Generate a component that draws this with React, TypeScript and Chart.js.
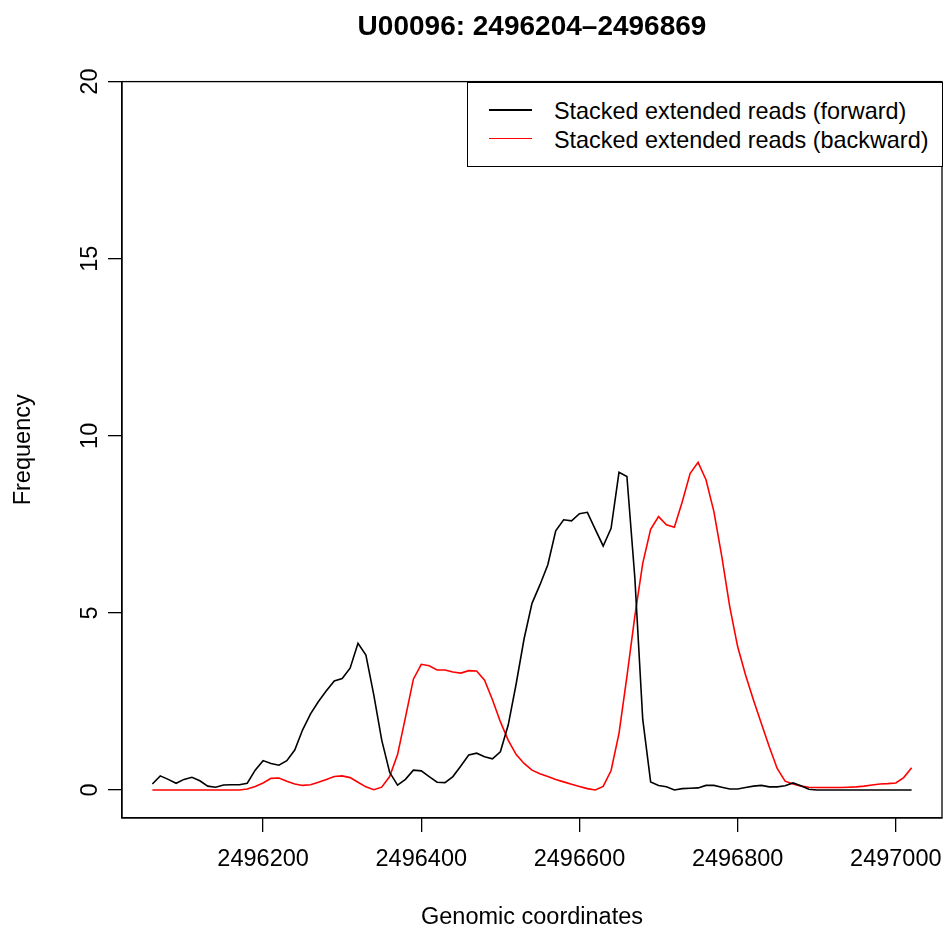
import React, { useEffect, useRef } from "react";
import { Chart, registerables } from "chart.js";

Chart.register(...registerables);

const positions = [
  2496060, 2496070, 2496080, 2496090, 2496100, 2496110, 2496120, 2496130, 2496140, 2496150,
  2496160, 2496170, 2496180, 2496190, 2496200, 2496210, 2496220, 2496230, 2496240, 2496250,
  2496260, 2496270, 2496280, 2496290, 2496300, 2496310, 2496320, 2496330, 2496340, 2496350,
  2496360, 2496370, 2496380, 2496390, 2496400, 2496410, 2496420, 2496430, 2496440, 2496450,
  2496460, 2496470, 2496480, 2496490, 2496500, 2496510, 2496520, 2496530, 2496540, 2496550,
  2496560, 2496570, 2496580, 2496590, 2496600, 2496610, 2496620, 2496630, 2496640, 2496650,
  2496660, 2496670, 2496680, 2496690, 2496700, 2496710, 2496720, 2496730, 2496740, 2496750,
  2496760, 2496770, 2496780, 2496790, 2496800, 2496810, 2496820, 2496830, 2496840, 2496850,
  2496860, 2496870, 2496880, 2496890, 2496900, 2496910, 2496920, 2496930, 2496940, 2496950,
  2496960, 2496970, 2496980, 2496990, 2497000, 2497010, 2497020,
];

const forwardReads = [
  0.17, 0.4, 0.3, 0.19, 0.3, 0.36, 0.26, 0.11, 0.08, 0.14,
  0.15, 0.15, 0.19, 0.56, 0.83, 0.75, 0.7, 0.83, 1.13, 1.7,
  2.15, 2.5, 2.8, 3.08, 3.15, 3.44, 4.14, 3.81, 2.68, 1.41,
  0.5, 0.14, 0.3, 0.56, 0.54, 0.38, 0.22, 0.21, 0.38, 0.68,
  0.99, 1.04, 0.94, 0.88, 1.08, 1.84, 3.0, 4.27, 5.27, 5.79,
  6.36, 7.32, 7.63, 7.6, 7.8, 7.84, 7.36, 6.89, 7.39, 8.97,
  8.85, 6.0, 2.0, 0.23, 0.13, 0.09, 0.0, 0.04, 0.05, 0.06,
  0.13, 0.13, 0.08, 0.03, 0.03, 0.07, 0.11, 0.13, 0.09, 0.09,
  0.12, 0.2, 0.12, 0.02, 0, 0, 0, 0, 0, 0,
  0, 0, 0, 0, 0, 0, 0,
];

const backwardReads = [
  0, 0, 0, 0, 0, 0, 0, 0, 0, 0,
  0, 0, 0.03, 0.1, 0.2, 0.33, 0.34, 0.25, 0.17, 0.13,
  0.15, 0.22, 0.3, 0.38, 0.4, 0.35, 0.22, 0.09, 0.01, 0.08,
  0.38, 1.0, 2.05, 3.13, 3.55, 3.51, 3.39, 3.39, 3.33, 3.3,
  3.37, 3.36, 3.1, 2.55, 1.93, 1.4, 1.0, 0.75, 0.56, 0.46,
  0.38, 0.3, 0.23, 0.16, 0.1, 0.04, 0.0, 0.1, 0.55, 1.6,
  3.2, 4.9, 6.4, 7.36, 7.72, 7.49, 7.42, 8.14, 8.94, 9.25,
  8.76, 7.86, 6.59, 5.18, 4.05, 3.25, 2.54, 1.88, 1.22, 0.61,
  0.25, 0.17, 0.11, 0.08, 0.07, 0.07, 0.07, 0.07, 0.08, 0.09,
  0.11, 0.14, 0.17, 0.18, 0.2, 0.35, 0.63,
];

const xTickValues = [2496200, 2496400, 2496600, 2496800, 2497000];
const yTickValues = [0, 5, 10, 15, 20];

const titleText = "U00096: 2496204\u20132496869";
const xTitle = "Genomic coordinates";
const yTitle = "Frequency";
const seriesLabels = ["Stacked extended reads (forward)", "Stacked extended reads (backward)"];
const seriesColors = ["#000000", "#ff0000"];

const FONT = "'Liberation Sans', Arial, Helvetica, sans-serif";
const W = 945;
const H = 928;

const plotBox = {
  id: "plotBox",
  afterDatasetsDraw(chart: any) {
    const { ctx, chartArea } = chart;
    const { left, top, right, bottom } = chartArea;
    ctx.save();
    ctx.strokeStyle = "#000";
    ctx.lineWidth = 1.3;
    ctx.strokeRect(left, top, right - left, bottom - top);
    ctx.restore();
  },
};

export default function App() {
  const ref = useRef<HTMLCanvasElement | null>(null);

  useEffect(() => {
    if (!ref.current) return;
    const toPts = (vals: number[]) => vals.map((v, i) => ({ x: positions[i], y: v }));
    const chart = new Chart(ref.current, {
      type: "line",
      data: {
        datasets: [
          {
            label: seriesLabels[0],
            data: toPts(forwardReads),
            borderColor: seriesColors[0],
            backgroundColor: seriesColors[0],
            borderWidth: 1.6,
            pointRadius: 0,
            tension: 0,
            fill: false,
          },
          {
            label: seriesLabels[1],
            data: toPts(backwardReads),
            borderColor: seriesColors[1],
            backgroundColor: seriesColors[1],
            borderWidth: 1.6,
            pointRadius: 0,
            tension: 0,
            fill: false,
          },
        ],
      },
      options: {
        responsive: false,
        animation: false,
        devicePixelRatio: 1,
        layout: { padding: { left: 0, right: 3, top: 0, bottom: 0 } },
        plugins: {
          legend: { display: false },
          tooltip: { enabled: false },
          title: {
            display: true,
            text: titleText,
            fullSize: false,
            color: "#000",
            font: { family: FONT, size: 28, weight: "bold", lineHeight: 1.2 },
            padding: { top: 10, bottom: 38 },
          },
        },
        scales: {
          x: {
            type: "linear",
            position: "bottom",
            min: 2496021.6,
            max: 2497058.4,
            afterBuildTicks: (s: any) => {
              s.ticks = xTickValues.map((v) => ({ value: v }));
            },
            afterFit: (s: any) => {
              s.height = 110;
              s.paddingLeft = 0;
              s.paddingRight = 0;
            },
            ticks: {
              color: "#000",
              font: { family: FONT, size: 23.5 },
              padding: 13,
              maxRotation: 0,
              minRotation: 0,
              autoSkip: false,
              callback: (v: any) => String(v),
            },
            grid: {
              drawOnChartArea: false,
              drawTicks: true,
              tickLength: 14,
              color: "#000",
              lineWidth: 1.3,
            },
            border: { display: true, color: "#000", width: 1.3 },
            title: {
              display: true,
              text: xTitle,
              color: "#000",
              font: { family: FONT, size: 23.5, lineHeight: 1 },
              padding: { top: 0, bottom: -1 },
            },
          },
          y: {
            type: "linear",
            position: "left",
            min: -0.79,
            max: 20,
            afterBuildTicks: (s: any) => {
              s.ticks = yTickValues.map((v) => ({ value: v }));
            },
            afterFit: (s: any) => {
              s.width = 122;
              s.paddingTop = 0;
              s.paddingBottom = 0;
            },
            ticks: {
              color: "#000",
              font: { family: FONT, size: 23.5 },
              padding: 4,
              minRotation: 90,
              maxRotation: 90,
              crossAlign: "center",
              autoSkip: false,
              callback: (v: any) => String(v),
            },
            grid: {
              drawOnChartArea: false,
              drawTicks: true,
              tickLength: 14,
              color: "#000",
              lineWidth: 1.3,
            },
            border: { display: true, color: "#000", width: 1.3 },
            title: {
              display: true,
              text: yTitle,
              color: "#000",
              font: { family: FONT, size: 23.5, lineHeight: 1 },
              padding: { top: 12, bottom: 0 },
            },
          },
        },
      },
      plugins: [plotBox],
    });
    return () => chart.destroy();
  }, []);

  const textStyle: React.CSSProperties = {
    position: "absolute",
    left: 554,
    fontFamily: FONT,
    fontSize: "23.4px",
    lineHeight: "28px",
    color: "#000",
    whiteSpace: "nowrap",
    margin: 0,
  };

  return (
    <div style={{ position: "fixed", left: 0, top: 0, width: W, height: H, background: "#fff", overflow: "hidden" }}>
      <canvas ref={ref} width={W} height={H} style={{ display: "block", width: W, height: H }} />
      <div
        style={{
          position: "absolute",
          left: 466.5,
          top: 81.7,
          width: 476,
          height: 85.3,
          border: "1.3px solid #000",
          boxSizing: "border-box",
          background: "#fff",
        }}
      />
      <div style={{ position: "absolute", left: 489, top: 109, width: 43, height: 1.6, background: seriesColors[0] }} />
      <div style={{ position: "absolute", left: 489, top: 137.6, width: 43, height: 1.6, background: seriesColors[1] }} />
      <div style={{ ...textStyle, top: 97.2 }}>{seriesLabels[0]}</div>
      <div style={{ ...textStyle, top: 125.6 }}>{seriesLabels[1]}</div>
    </div>
  );
}
